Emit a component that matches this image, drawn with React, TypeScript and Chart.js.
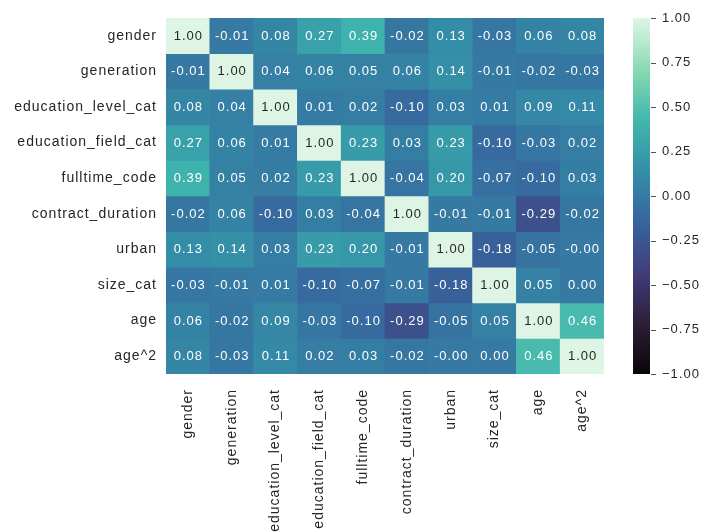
import React, { useEffect, useRef } from 'react';
import { Chart, registerables } from 'chart.js';

Chart.register(...registerables);

// ---------- data ----------
const variables = [
  'gender',
  'generation',
  'education_level_cat',
  'education_field_cat',
  'fulltime_code',
  'contract_duration',
  'urban',
  'size_cat',
  'age',
  'age^2',
];

const rowGender = [1.0, -0.01, 0.08, 0.27, 0.39, -0.02, 0.13, -0.03, 0.06, 0.08];
const rowGeneration = [-0.01, 1.0, 0.04, 0.06, 0.05, 0.06, 0.14, -0.01, -0.02, -0.03];
const rowEducationLevel = [0.08, 0.04, 1.0, 0.01, 0.02, -0.1, 0.03, 0.01, 0.09, 0.11];
const rowEducationField = [0.27, 0.06, 0.01, 1.0, 0.23, 0.03, 0.23, -0.1, -0.03, 0.02];
const rowFulltime = [0.39, 0.05, 0.02, 0.23, 1.0, -0.04, 0.2, -0.07, -0.1, 0.03];
const rowContract = [-0.02, 0.06, -0.1, 0.03, -0.04, 1.0, -0.01, -0.01, -0.29, -0.02];
const rowUrban = [0.13, 0.14, 0.03, 0.23, 0.2, -0.01, 1.0, -0.18, -0.05, -0.004];
const rowSize = [-0.03, -0.01, 0.01, -0.1, -0.07, -0.01, -0.18, 1.0, 0.05, 0.0];
const rowAge = [0.06, -0.02, 0.09, -0.03, -0.1, -0.29, -0.05, 0.05, 1.0, 0.46];
const rowAge2 = [0.08, -0.03, 0.11, 0.02, 0.03, -0.02, -0.004, 0.0, 0.46, 1.0];

const corr = [
  rowGender,
  rowGeneration,
  rowEducationLevel,
  rowEducationField,
  rowFulltime,
  rowContract,
  rowUrban,
  rowSize,
  rowAge,
  rowAge2,
];

const colorMin = -1;
const colorMax = 1;
const colorTickStep = 0.25;

// ---------- mako colormap ----------
const makoStops: [number, string][] = [
  [0 / 7, '#0b0405'],
  [1 / 7, '#2e1e3b'],
  [2 / 7, '#413d7b'],
  [3 / 7, '#37659e'],
  [4 / 7, '#348fa7'],
  [5 / 7, '#40b7ad'],
  [6 / 7, '#8bdab2'],
  [7 / 7, '#def5e5'],
];

function hexToRgb(h: string): number[] {
  return [parseInt(h.slice(1, 3), 16), parseInt(h.slice(3, 5), 16), parseInt(h.slice(5, 7), 16)];
}

function makoRgb(v: number): number[] {
  let t = (v - colorMin) / (colorMax - colorMin);
  t = Math.max(0, Math.min(1, t));
  for (let i = 0; i < makoStops.length - 1; i++) {
    const [t0, c0] = makoStops[i];
    const [t1, c1] = makoStops[i + 1];
    if (t <= t1) {
      const f = (t - t0) / (t1 - t0);
      const a = hexToRgb(c0);
      const b = hexToRgb(c1);
      return a.map((x, k) => Math.round(x + (b[k] - x) * f));
    }
  }
  return hexToRgb(makoStops[makoStops.length - 1][1]);
}

function makoColor(v: number): string {
  const [r, g, b] = makoRgb(v);
  return `rgb(${r},${g},${b})`;
}

function textColorFor(v: number): string {
  const lin = (c: number) => {
    const s = c / 255;
    return s <= 0.03928 ? s / 12.92 : Math.pow((s + 0.055) / 1.055, 2.4);
  };
  const [r, g, b] = makoRgb(v);
  const lum = 0.2126 * lin(r) + 0.7152 * lin(g) + 0.0722 * lin(b);
  return lum > 0.408 ? '#262626' : '#ffffff';
}

const FONT_FAMILY = '"Liberation Sans", Arial, sans-serif';
const LABEL_COLOR = '#262626';

const spacingPlugin = {
  id: 'spacing',
  beforeDraw(chart: any) {
    chart.ctx.letterSpacing = '1px';
  },
  afterDraw(chart: any) {
    chart.ctx.letterSpacing = '0px';
  },
};

const annotationPlugin = {
  id: 'cellText',
  afterDatasetsDraw(chart: any) {
    const ctx = chart.ctx;
    ctx.save();
    ctx.letterSpacing = '1px';
    ctx.font = `13px ${FONT_FAMILY}`;
    ctx.textAlign = 'center';
    ctx.textBaseline = 'middle';
    corr.forEach((row, r) => {
      const meta = chart.getDatasetMeta(r);
      meta.data.forEach((bar: any, c: number) => {
        const p = bar.getProps(['x', 'y', 'base'], true);
        const v = row[c];
        ctx.fillStyle = textColorFor(v);
        ctx.fillText(v.toFixed(2), p.x + 0.5, (p.y + p.base) / 2 + 0.5);
      });
    });
    ctx.restore();
  },
};

const colorbarTickPlugin = {
  id: 'cbarTicks',
  afterDraw(chart: any) {
    const ctx = chart.ctx;
    const scale = chart.scales.y;
    const area = chart.chartArea;
    ctx.save();
    ctx.strokeStyle = '#555555';
    ctx.lineWidth = 1;
    scale.ticks.forEach((t: any) => {
      const py = Math.round(scale.getPixelForValue(t.value)) + 0.5;
      ctx.beginPath();
      ctx.moveTo(area.right + 1, py);
      ctx.lineTo(area.right + 6, py);
      ctx.stroke();
    });
    ctx.restore();
  },
};

export default function App() {
  const heatRef = useRef<HTMLCanvasElement | null>(null);
  const cbarRef = useRef<HTMLCanvasElement | null>(null);

  useEffect(() => {
    const font = { family: FONT_FAMILY, size: 14 };

    const heat = new Chart(heatRef.current as HTMLCanvasElement, {
      type: 'bar',
      data: {
        labels: variables,
        datasets: corr.map((row, r) => ({
          label: variables[r],
          data: row.map(() => [r, r + 1]),
          backgroundColor: row.map((v) => makoColor(v)),
          borderWidth: 0,
          grouped: false,
          barPercentage: 1,
          categoryPercentage: 1,
          xAxisID: 'x',
          yAxisID: 'y',
        })),
      } as any,
      options: {
        responsive: false,
        animation: false,
        layout: { padding: { top: 18, right: 16, left: 0, bottom: 0 } },
        plugins: { legend: { display: false }, tooltip: { enabled: false } },
        scales: {
          x: {
            type: 'category',
            position: 'bottom',
            offset: true,
            grid: { display: false, drawTicks: false, tickLength: 0 },
            border: { display: false },
            ticks: {
              minRotation: 90,
              maxRotation: 90,
              autoSkip: false,
              padding: 15,
              color: LABEL_COLOR,
              font,
            },
            afterFit: (s: any) => {
              s.height = 158;
              s.paddingLeft = 0;
              s.paddingRight = 0;
            },
          },
          y: {
            type: 'linear',
            display: false,
            min: 0,
            max: variables.length,
            reverse: true,
          },
          yl: {
            type: 'category',
            axis: 'y',
            position: 'left',
            labels: variables,
            offset: true,
            grid: { display: false, drawTicks: false, tickLength: 0 },
            border: { display: false },
            ticks: { padding: 9, color: LABEL_COLOR, font, autoSkip: false },
            afterFit: (s: any) => {
              s.width = 166;
              s.paddingTop = 0;
              s.paddingBottom = 0;
            },
          },
        } as any,
      },
      plugins: [spacingPlugin, annotationPlugin],
    });

    const cbar = new Chart(cbarRef.current as HTMLCanvasElement, {
      type: 'bar',
      data: {
        labels: [''],
        datasets: [
          {
            data: [[colorMin, colorMax]],
            backgroundColor: (c: any) => {
              const area = c.chart.chartArea;
              if (!area) return makoColor(0);
              const g = c.chart.ctx.createLinearGradient(0, area.bottom, 0, area.top);
              for (let i = 0; i <= 40; i++) {
                const t = i / 40;
                g.addColorStop(t, makoColor(colorMin + t * (colorMax - colorMin)));
              }
              return g;
            },
            borderWidth: 0,
            barPercentage: 1,
            categoryPercentage: 1,
            inflateAmount: 0,
          },
        ],
      } as any,
      options: {
        responsive: false,
        animation: false,
        layout: { padding: { top: 18, bottom: 158, left: 13, right: 0 } },
        plugins: { legend: { display: false }, tooltip: { enabled: false } },
        scales: {
          x: { type: 'category', display: false, offset: true },
          y: {
            type: 'linear',
            position: 'right',
            min: colorMin,
            max: colorMax,
            grid: { display: false, drawTicks: false, tickLength: 0 },
            border: { display: false },
            ticks: {
              stepSize: colorTickStep,
              padding: 12,
              color: LABEL_COLOR,
              font: { family: FONT_FAMILY, size: 13 },
              callback: (v: any) => (v < 0 ? '\u2212' : '') + Math.abs(Number(v)).toFixed(2),
            },
            afterFit: (s: any) => {
              s.width = 53;
              s.paddingTop = 0;
              s.paddingBottom = 0;
            },
          },
        } as any,
      },
      plugins: [spacingPlugin, colorbarTickPlugin],
    });

    return () => {
      heat.destroy();
      cbar.destroy();
    };
  }, []);

  return (
    <div
      style={{
        position: 'absolute',
        left: 0,
        top: 0,
        width: 703,
        height: 532,
        background: '#ffffff',
        overflow: 'hidden',
      }}
    >
      <canvas
        ref={heatRef}
        width={620}
        height={532}
        style={{ position: 'absolute', left: 0, top: 0, width: 620, height: 532 }}
      />
      <canvas
        ref={cbarRef}
        width={83}
        height={532}
        style={{ position: 'absolute', left: 620, top: 0, width: 83, height: 532 }}
      />
    </div>
  );
}
